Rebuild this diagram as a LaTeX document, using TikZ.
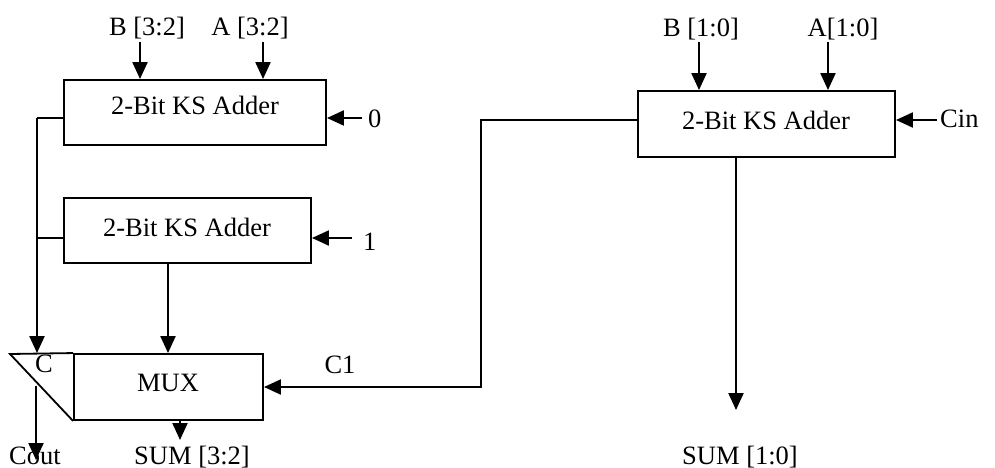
\documentclass[tikz,border=0pt]{standalone}
\usepackage{fontspec}
\setmainfont{Liberation Serif}
\usetikzlibrary{arrows.meta}
\begin{document}
\begin{tikzpicture}[x=1pt,y=-1pt,
  font=\fontsize{26.5}{30}\selectfont,
  box/.style={draw, line width=1.9pt, inner sep=0pt},
  lbl/.style={inner sep=0pt, anchor=base},
  arr/.style={line width=2.2pt, -{Triangle[length=17pt,width=15pt]}},
  wire/.style={line width=1.8pt}]
\useasboundingbox (0,0) rectangle (995,468);
% boxes
\node[box, minimum width=262pt, minimum height=65pt] (ad1) at (195,112.5) {};
\node[lbl] (ad1t) at (195,115) {2-Bit KS Adder};
\node[box, minimum width=247pt, minimum height=65pt] (ad2) at (187.5,230.5) {};
\node[lbl] (ad2t) at (187,236) {2-Bit KS Adder};
\node[box, minimum width=257pt, minimum height=66pt] (ad3) at (766.5,124) {};
\node[lbl] (ad3t) at (766,129) {2-Bit KS Adder};
\node[box, minimum width=189pt, minimum height=66pt] (mux) at (168.5,387) {};
\node[lbl] (muxt) at (168,391) {MUX};
\coordinate (tip) at (10,354);
\draw[wire, line join=miter] (mux.north west) -- (tip) -- (mux.south west);
\node[lbl] (clbl) at (44,372) {C};
% input labels
\node[lbl] (b32) at (147,36) {B [3:2]};
\node[lbl] (a32) at (250,36) {A [3:2]};
\node[lbl] (b10) at (701,37) {B [1:0]};
\node[lbl] (a10) at (843,37) {A[1:0]};
\node[lbl, anchor=base west] (cin) at (940,128) {Cin};
\node[lbl, anchor=base west] (zero) at (368,128) {0};
\node[lbl, anchor=base west] (one) at (363,250) {1};
\node[lbl] (c1) at (340,373) {C1};
\node[lbl] (cout) at (35,464) {Cout};
\node[lbl] (s32) at (192,464) {SUM [3:2]};
\node[lbl] (s10) at (740,464) {SUM [1:0]};
% coordinates
\coordinate (bB1) at (140,42);
\coordinate (bA1) at (263,42);
\coordinate (bB3) at (699,42);
\coordinate (bA3) at (828,42);
\coordinate (z0) at (362,118);
\coordinate (z1) at (352,238);
\coordinate (zc) at (937,120);
\coordinate (jl) at (37,118);
\coordinate (j2) at (37,238);
\coordinate (m2) at (168,263);
\coordinate (co) at (36,386);
\coordinate (coe) at (36,460);
\coordinate (sm) at (180,420);
\coordinate (sme) at (180,440);
\coordinate (c1a) at (481,120);
\coordinate (c1b) at (481,387);
\coordinate (s1) at (736,157);
\coordinate (s1e) at (736,410);
% arrows
\draw[arr] (bB1) -- (bB1 |- ad1.north);
\draw[arr] (bA1) -- (bA1 |- ad1.north);
\draw[arr] (bB3) -- (bB3 |- ad3.north);
\draw[arr] (bA3) -- (bA3 |- ad3.north);
\draw[arr] (z0) -- (z0 -| ad1.east);
\draw[arr] (z1) -- (z1 -| ad2.east);
\draw[arr] (zc) -- (zc -| ad3.east);
\draw[wire] (jl -| ad1.west) -- (jl);
\draw[wire] (j2 -| ad2.west) -- (j2);
\draw[arr] (jl) -- (jl |- mux.north);
\draw[arr] (m2) -- (m2 |- mux.north);
\draw[arr] (co) -- (coe);
\draw[arr] (sm) -- (sme);
\draw[arr, line join=miter] (c1a -| ad3.west) -- (c1a) -- (c1b) -- (c1b -| mux.east);
\draw[arr] (s1) -- (s1e);
\end{tikzpicture}
\end{document}
